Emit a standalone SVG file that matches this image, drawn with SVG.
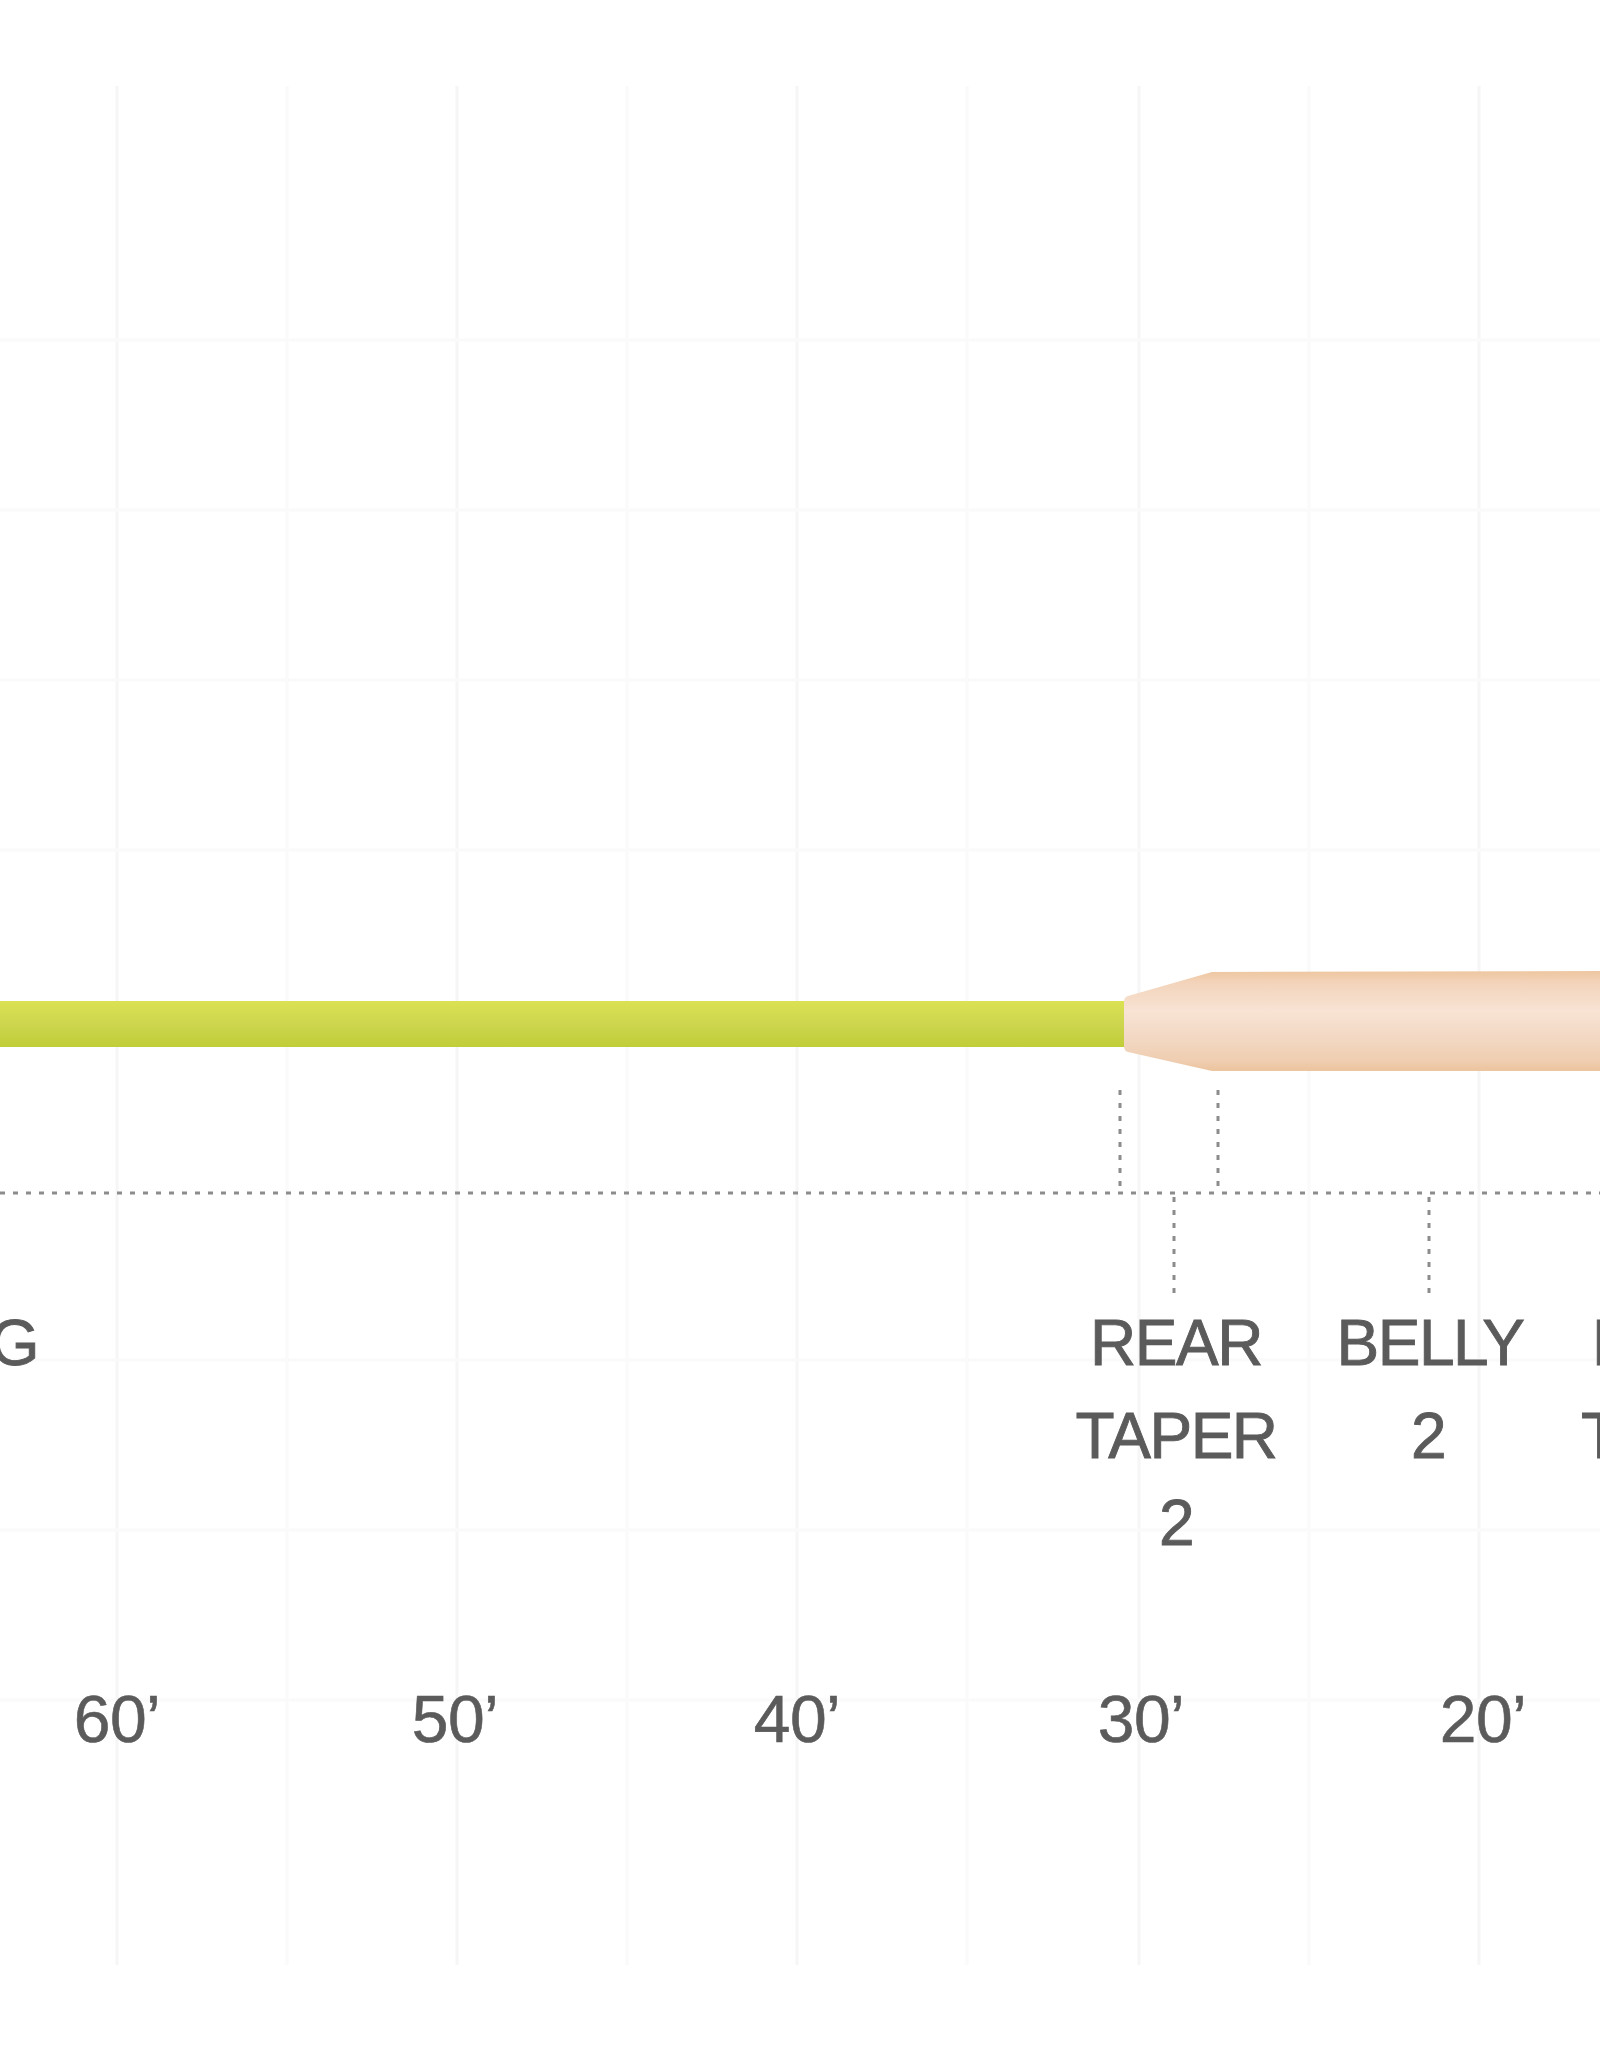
<svg xmlns="http://www.w3.org/2000/svg" width="1600" height="2048" viewBox="0 0 1600 2048">
<defs>
<linearGradient id="gGreen" x1="0" y1="0" x2="0" y2="1">
<stop offset="0" stop-color="#dbe152"/>
<stop offset="0.5" stop-color="#cdd64e"/>
<stop offset="1" stop-color="#c1cd38"/>
</linearGradient>
<linearGradient id="gPeach" x1="0" y1="0" x2="0" y2="1">
<stop offset="0" stop-color="#eec6a0"/>
<stop offset="0.12" stop-color="#f3d4bb"/>
<stop offset="0.4" stop-color="#f8e3d4"/>
<stop offset="0.7" stop-color="#f2d7c1"/>
<stop offset="0.9" stop-color="#efcdb0"/>
<stop offset="1" stop-color="#ecc49e"/>
</linearGradient>
<style>
.grid{stroke:#f6f6f6;stroke-width:3;fill:none}
.gridm{stroke:#fafafa;stroke-width:3;fill:none}
.dot{stroke:#8c8c8c;stroke-width:3;stroke-dasharray:5 8;fill:none}
.lbl{font-family:"Liberation Sans",Arial,sans-serif;font-size:64px;fill:#5b5b5b;stroke:#5b5b5b;stroke-width:0.9;letter-spacing:-1.5px;text-anchor:middle}
.ft{font-family:"Liberation Sans",Arial,sans-serif;font-size:66px;fill:#5b5b5b;stroke:#5b5b5b;stroke-width:0.6;letter-spacing:-0.5px;text-anchor:middle}
</style>
</defs>
<rect width="1600" height="2048" fill="#ffffff"/>
<g id="grid">
<line class="grid" x1="117" y1="86" x2="117" y2="1965"/>
<line class="gridm" x1="287" y1="86" x2="287" y2="1965"/>
<line class="grid" x1="457" y1="86" x2="457" y2="1965"/>
<line class="gridm" x1="627" y1="86" x2="627" y2="1965"/>
<line class="grid" x1="797" y1="86" x2="797" y2="1965"/>
<line class="gridm" x1="967" y1="86" x2="967" y2="1965"/>
<line class="grid" x1="1139" y1="86" x2="1139" y2="1965"/>
<line class="gridm" x1="1309" y1="86" x2="1309" y2="1965"/>
<line class="grid" x1="1479" y1="86" x2="1479" y2="1965"/>
<line class="gridm" x1="0" y1="340" x2="1600" y2="340"/>
<line class="gridm" x1="0" y1="510" x2="1600" y2="510"/>
<line class="gridm" x1="0" y1="680" x2="1600" y2="680"/>
<line class="gridm" x1="0" y1="850" x2="1600" y2="850"/>
<line class="gridm" x1="0" y1="1360" x2="1600" y2="1360"/>
<line class="gridm" x1="0" y1="1530" x2="1600" y2="1530"/>
<line class="gridm" x1="0" y1="1700" x2="1600" y2="1700"/>
</g>
<g id="running-line">
<rect x="0" y="1001" width="1128" height="46" fill="url(#gGreen)"/>
</g>
<g id="head">
<path d="M1128,996 Q1124,997 1124,1002 L1124,1046 Q1124,1051 1128,1052 L1212,1071 L1600,1071 L1600,971 L1212,972 Z" fill="url(#gPeach)"/>
</g>
<g id="connectors">
<line class="dot" x1="0" y1="1193" x2="1600" y2="1193"/>
<line class="dot" x1="1120" y1="1090" x2="1120" y2="1190"/>
<line class="dot" x1="1218" y1="1090" x2="1218" y2="1190"/>
<line class="dot" x1="1174" y1="1197" x2="1174" y2="1298"/>
<line class="dot" x1="1429" y1="1197" x2="1429" y2="1298"/>
</g>
<g id="label-running">
<text class="lbl" x="38" y="1365" style="text-anchor:end">G</text>
</g>
<g id="label-rear-taper">
<text class="lbl" x="1176" y="1365">REAR</text>
<text class="lbl" x="1176" y="1458">TAPER</text>
<text class="lbl" x="1176" y="1545">2</text>
</g>
<g id="label-belly">
<text class="lbl" x="1430" y="1365">BELLY</text>
<text class="lbl" x="1428" y="1458">2</text>
</g>
<g id="label-front-taper">
<text class="lbl" x="1592" y="1365" style="text-anchor:start">F</text>
<text class="lbl" x="1581" y="1458" style="text-anchor:start">T</text>
</g>
<g id="scale">
<text class="ft" x="117" y="1742">60’</text>
<text class="ft" x="455" y="1742">50’</text>
<text class="ft" x="797" y="1742">40’</text>
<text class="ft" x="1141" y="1742">30’</text>
<text class="ft" x="1483" y="1742">20’</text>
</g>
</svg>
